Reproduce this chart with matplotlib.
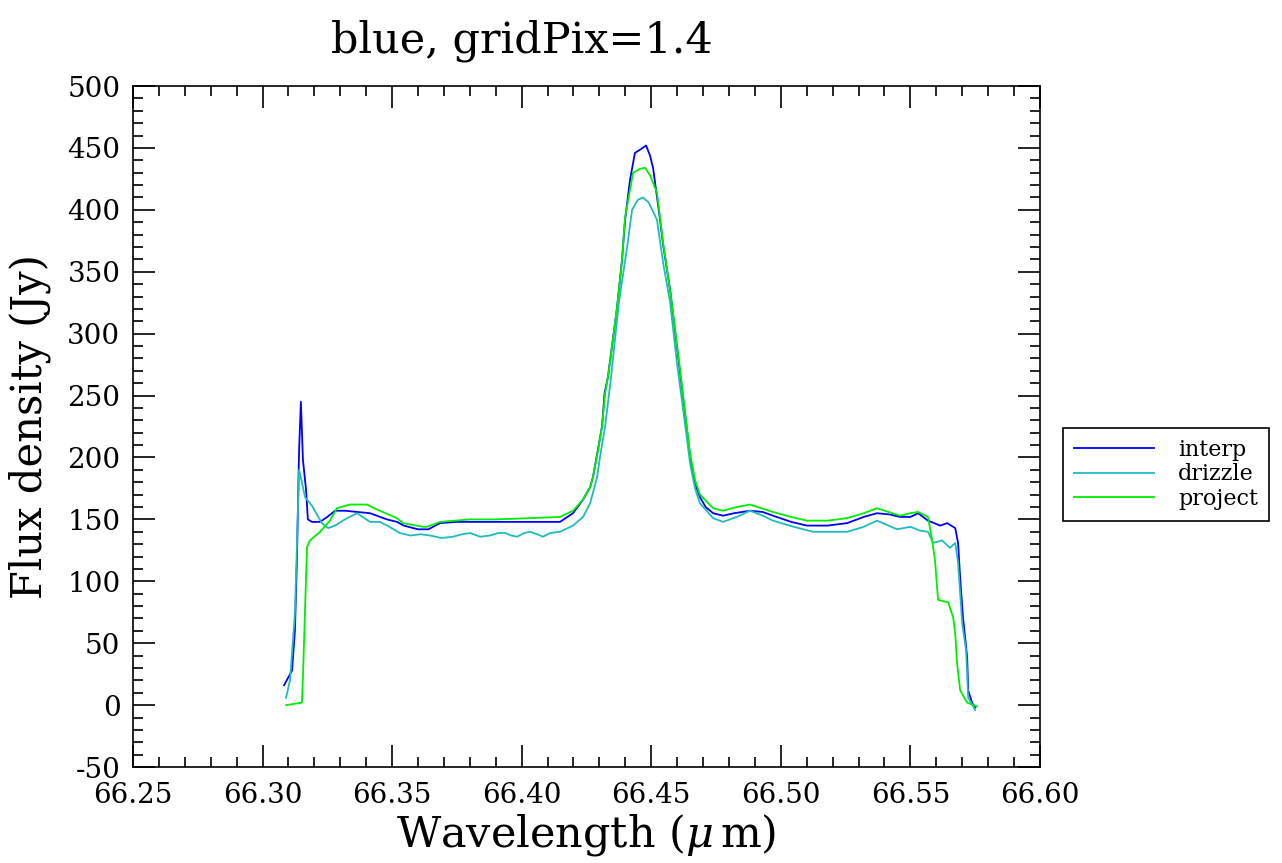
import numpy as np
import matplotlib.pyplot as plt
from matplotlib.ticker import MultipleLocator

plt.rcParams['font.family'] = 'DejaVu Serif'
plt.rcParams['mathtext.fontset'] = 'dejavuserif'
plt.rcParams['axes.unicode_minus'] = False

# interp
wl_interp = [66.3083, 66.3114, 66.3125, 66.3133, 66.3141, 66.3148, 66.3156, 66.3168, 66.3175,
             66.3191, 66.3222, 66.3250, 66.3280, 66.3320, 66.3365, 66.3415, 66.3480, 66.3519,
             66.3545, 66.3600, 66.3640, 66.3685, 66.3750, 66.3800, 66.3900, 66.4000, 66.4071,
             66.4148, 66.4198, 66.4237, 66.4264, 66.4275, 66.4294, 66.4310, 66.4320, 66.4333,
             66.4368, 66.4387, 66.4399, 66.4418, 66.4437, 66.4460, 66.4480, 66.4495, 66.4507,
             66.4534, 66.4545, 66.4573, 66.4600, 66.4638, 66.4650, 66.4669, 66.4688, 66.4710,
             66.4739, 66.4777, 66.4820, 66.4881, 66.4930, 66.4970, 66.5040, 66.5101, 66.5180,
             66.5256, 66.5320, 66.5371, 66.5420, 66.5460, 66.5500, 66.5530, 66.5568, 66.5615,
             66.5642, 66.5673, 66.5684, 66.5692, 66.5703, 66.5719, 66.5723, 66.5738, 66.5750]
f_interp = [16, 28, 60, 120, 205, 245, 198, 174, 150,
            148, 148, 152, 157, 157, 156, 155, 150, 148,
            145, 142, 142, 147, 148, 148, 148, 148, 148,
            148, 155, 166, 176, 184, 206, 225, 252, 265,
            321, 359, 392, 424, 446, 449, 452, 444, 434,
            392, 373, 335, 288, 222, 200, 179, 168, 160,
            155, 153, 155, 157, 156, 153, 148, 145, 145,
            147, 152, 155, 154, 152, 152, 155, 149, 145,
            147, 143, 131, 103, 71, 39, 12, 2, -2]

# drizzle
wl_drizzle = [66.3091, 66.3106, 66.3125, 66.3133, 66.3141, 66.3152, 66.3164, 66.3191, 66.3229,
              66.3253, 66.3280, 66.3318, 66.3365, 66.3415, 66.3453, 66.3490, 66.3530, 66.3570,
              66.3610, 66.3646, 66.3690, 66.3735, 66.3770, 66.3801, 66.3840, 66.3878, 66.3910,
              66.3936, 66.3960, 66.3982, 66.4010, 66.4032, 66.4060, 66.4082, 66.4110, 66.4148,
              66.4198, 66.4237, 66.4264, 66.4291, 66.4302, 66.4322, 66.4345, 66.4375, 66.4407,
              66.4426, 66.4448, 66.4468, 66.4490, 66.4522, 66.4546, 66.4573, 66.4600, 66.4638,
              66.4650, 66.4669, 66.4688, 66.4739, 66.4777, 66.4830, 66.4881, 66.4930, 66.4970,
              66.5050, 66.5124, 66.5190, 66.5256, 66.5320, 66.5371, 66.5449, 66.5500, 66.5537,
              66.5568, 66.5588, 66.5622, 66.5653, 66.5673, 66.5684, 66.5700, 66.5715, 66.5723,
              66.5750]
f_drizzle = [6, 20, 74, 130, 190, 180, 168, 161, 147,
             143, 145, 150, 155, 148, 148, 144, 139, 137,
             138, 137, 135, 136, 138, 139, 136, 137, 139,
             139, 137, 136, 139, 140, 138, 136, 139, 140,
             145, 152, 163, 184, 200, 225, 265, 325, 370,
             400, 408, 410, 406, 392, 357, 325, 275, 215,
             195, 175, 163, 151, 148, 152, 157, 153, 149,
             144, 140, 140, 140, 144, 149, 142, 144, 141,
             140, 131, 133, 127, 131, 115, 66, 44, 6,
             -4]

# project
wl_project = [66.3091, 66.3152, 66.3156, 66.3168, 66.3172, 66.3183, 66.3222, 66.3260, 66.3287,
              66.3337, 66.3403, 66.3442, 66.3519, 66.3542, 66.3619, 66.3635, 66.3685, 66.3801,
              66.3900, 66.4032, 66.4148, 66.4198, 66.4237, 66.4264, 66.4275, 66.4295, 66.4310,
              66.4322, 66.4333, 66.4368, 66.4387, 66.4399, 66.4430, 66.4455, 66.4476, 66.4495,
              66.4522, 66.4546, 66.4573, 66.4600, 66.4638, 66.4650, 66.4669, 66.4688, 66.4739,
              66.4777, 66.4830, 66.4881, 66.4970, 66.5040, 66.5101, 66.5180, 66.5256, 66.5320,
              66.5371, 66.5460, 66.5500, 66.5530, 66.5568, 66.5584, 66.5595, 66.5603, 66.5607,
              66.5646, 66.5665, 66.5673, 66.5680, 66.5692, 66.5719, 66.5757]
f_project = [0, 2, 23, 103, 128, 133, 140, 149, 159,
             162, 162, 158, 151, 147, 144, 144, 148, 150,
             150, 151, 152, 157, 166, 176, 184, 206, 225,
             252, 265, 321, 359, 394, 430, 433, 434, 428,
             414, 373, 335, 290, 224, 203, 182, 170, 159,
             157, 160, 162, 156, 152, 149, 149, 151, 155,
             159, 153, 155, 156, 152, 133, 117, 95, 85,
             83, 71, 58, 34, 12, 2, -1]

fig = plt.figure(figsize=(12.82, 8.63), dpi=100)
ax = fig.add_axes([0.1037, 0.1112, 0.7075, 0.7891])

ax.plot(wl_interp, f_interp, color='#0000ff', lw=1.3, label='interp')
ax.plot(wl_drizzle, f_drizzle, color='#1fbcbc', lw=1.3, label='drizzle')
ax.plot(wl_project, f_project, color='#00ee00', lw=1.3, label='project')

ax.set_xlim(66.25, 66.60)
ax.set_ylim(-50, 500)
ax.xaxis.set_major_locator(MultipleLocator(0.05))
ax.xaxis.set_minor_locator(MultipleLocator(0.01))
ax.yaxis.set_major_locator(MultipleLocator(50))
ax.yaxis.set_minor_locator(MultipleLocator(10))
ax.xaxis.set_major_formatter(plt.FormatStrFormatter('%.2f'))
ax.tick_params(which='both', direction='in', top=True, right=True, labelsize=20, width=1.2)
ax.tick_params(which='major', length=16)
ax.tick_params(which='minor', length=7)
ax.tick_params(axis='x', which='major', pad=11)
ax.tick_params(axis='y', which='major', pad=9)
for s in ax.spines.values():
    s.set_linewidth(1.2)

ax.set_xlabel(r'Wavelength ($\mu\,$m)', fontsize=31, labelpad=2)
ax.set_ylabel('Flux density (Jy)', fontsize=30, labelpad=12)
ax.set_title('blue, gridPix=1.4', fontsize=31, x=0.429, pad=24)

leg = ax.legend(loc='upper left', bbox_to_anchor=(0.829, 0.504), bbox_transform=fig.transFigure,
                borderaxespad=0, fontsize=16, handlelength=3.6, labelspacing=0.1,
                fancybox=False, framealpha=1, edgecolor='black', borderpad=0.5,
                handletextpad=1.1)
leg.get_frame().set_linewidth(1.2)

fig.savefig('out.png', dpi=100)
